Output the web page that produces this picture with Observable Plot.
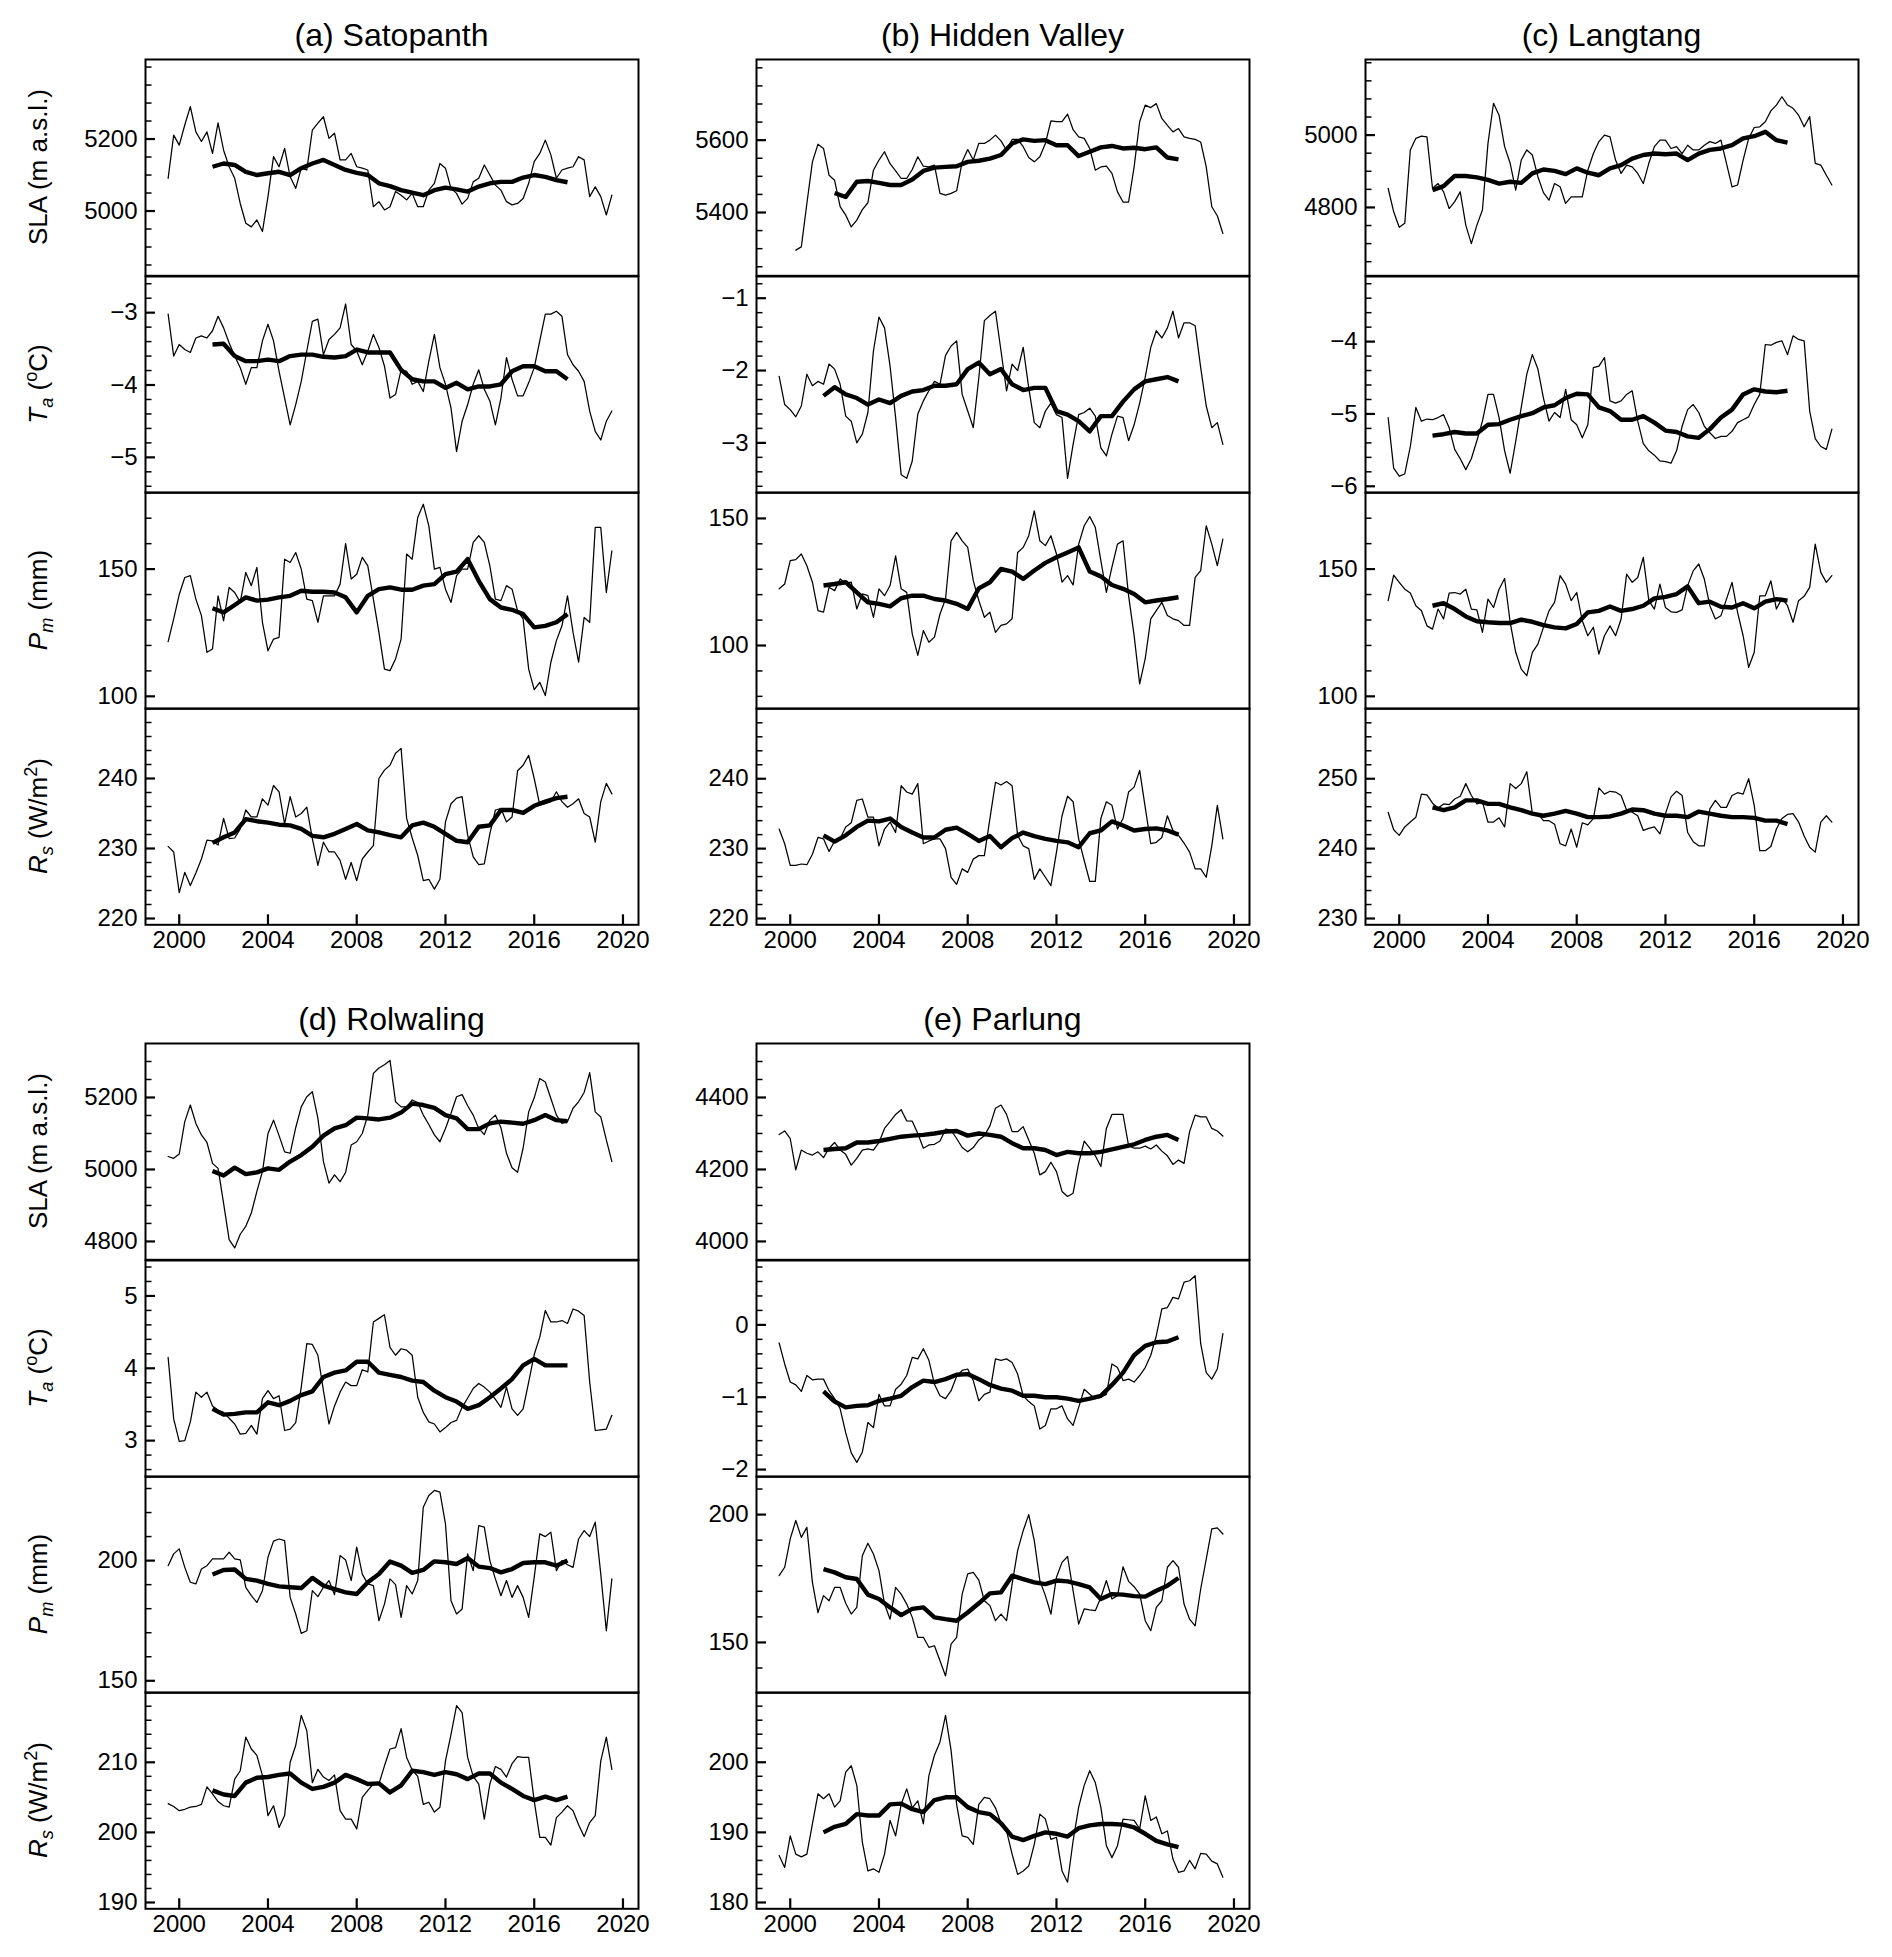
<!DOCTYPE html>
<html>
<head>
<meta charset="utf-8">
<script src="https://cdn.jsdelivr.net/npm/d3@7"></script>
<script src="https://cdn.jsdelivr.net/npm/@observablehq/plot@0.6"></script>
<style>
  body { margin: 0; background: #fff; }
  #fig { position: relative; width: 1892px; height: 1957px; background: #fff; color: #000;
         font-family: "Liberation Sans", Arial, Helvetica, sans-serif; }
  .title { position: absolute; font-size: 32px; transform: translate(-50%, -50%); white-space: nowrap; }
  .ylab { position: absolute; font-size: 26px; transform: translate(-50%, -50%) rotate(-90deg); white-space: nowrap; }
  .ylab sub, .ylab sup { font-size: 70%; line-height: 0; }
  .sub { position: absolute; }
</style>
</head>
<body>
<div id="fig"></div>
<script>
// ---------- time grids ----------
const thinYears = d3.range(81).map(i => 1999.5 + i * 0.25);   // quarterly samples of the monthly series
const avgYears  = d3.range(33).map(i => 2001.5 + i * 0.5);    // half-yearly samples of the moving average
const xTicks = [2000, 2004, 2008, 2012, 2016, 2020];

// ---------- (a) Satopanth ----------
const satopanthSLA = [5091,5211,5183,5239,5290,5220,5193,5220,5160,5245,
  5169,5123,5091,5021,4966,4956,4975,4943,5040,5151,
  5123,5174,5095,5063,5119,5114,5225,5244,5262,5202,
  5216,5142,5142,5160,5123,5119,5114,5012,5026,5003,
  5012,5054,5044,5031,5049,5012,5012,5058,5077,5132,
  5119,5063,5049,5019,5035,5081,5091,5128,5100,5072,
  5058,5026,5017,5021,5035,5077,5137,5160,5197,5156,
  5091,5114,5119,5123,5151,5142,5040,5067,5040,4989,5044];
const satopanthSLAma = [5123,5132,5128,5109,5100,5105,5109,5100,5119,5132,5142,5128,5114,5106,5100,5077,5069,
  5058,5051,5044,5058,5065,5060,5054,5068,5077,5081,5081,5093,5100,5095,5086,5080];
const satopanthTa = [-3.02,-3.60,-3.44,-3.51,-3.55,-3.35,-3.32,-3.35,-3.25,-3.05,
  -3.21,-3.42,-3.60,-3.76,-3.99,-3.76,-3.76,-3.39,-3.16,-3.39,
  -3.81,-4.18,-4.55,-4.27,-3.95,-3.53,-3.12,-3.09,-3.58,-3.37,
  -3.30,-3.21,-2.88,-3.44,-3.53,-3.72,-3.53,-3.30,-3.48,-3.74,
  -4.18,-4.13,-3.79,-3.81,-3.99,-3.95,-4.09,-3.67,-3.30,-3.76,
  -3.99,-4.32,-4.92,-4.50,-4.27,-3.99,-3.79,-4.06,-4.22,-4.55,
  -4.18,-3.62,-3.92,-4.15,-4.15,-3.97,-3.76,-3.39,-3.02,-3.02,
  -2.98,-3.05,-3.58,-3.72,-3.81,-3.95,-4.36,-4.64,-4.76,-4.50,-4.36];
const satopanthTama = [-3.44,-3.43,-3.60,-3.67,-3.67,-3.65,-3.67,-3.60,-3.58,-3.58,-3.61,-3.62,-3.60,-3.51,-3.55,-3.55,-3.55,
  -3.79,-3.92,-3.95,-3.95,-4.04,-3.97,-4.06,-4.02,-4.02,-3.99,-3.81,-3.74,-3.74,-3.81,-3.81,-3.92];
const satopanthPm = [121.5,130.4,140,146.7,147.4,138.2,131.7,117.3,118.6,139.5,
  129.7,142.8,140.8,136.9,148.7,143.5,150.7,129.1,117.9,122.5,
  123.2,153.9,152.6,156.5,150,138.2,137.6,129.1,139.5,139.5,
  139.5,144.1,160,146.1,148,154.6,151.3,138.2,125.1,110.7,
  110.1,114.7,122.5,155.9,153.9,170.3,175.5,167,150,150.7,
  142.1,136.9,147.4,150,150,160.5,163.1,160.5,151.3,138.2,
  137.6,143.5,142.1,133.6,130.4,110.7,102.6,105.5,100.3,113.4,
  121.9,127.7,139.5,125.1,113.4,131,129.1,166.4,166.4,140.8,157.2];
const satopanthPmma = [134.6,133,135.9,138.9,137.6,138,138.9,139.5,141.5,141.1,141.1,140.8,138.9,133,139.5,142.1,142.8,
  141.9,141.9,143.5,144.1,148,149,153.9,145.4,138.2,134.9,134,132.3,127.1,127.7,129.1,132.3];
const satopanthRs = [230.3,229.5,223.7,226.6,224.7,226.5,228.5,231.2,231.1,230.5,
  234.3,231.4,231.5,232.8,235.5,234.5,234.5,237.1,236.2,239,
  238.1,233.5,237.4,234.5,235,235.9,231.4,227.6,230.9,229.5,
  229.5,228.3,225.6,228,225.4,228.5,229.5,230.4,240,241.2,
  241.9,243.6,244.3,234.3,231.5,229,225.4,225.6,224.2,225.6,
  233.8,236.4,237.2,237.4,231.9,228.8,227.7,227.8,232.1,235.5,
  235.7,233.8,234.5,241.1,241.9,243.3,240,236.2,236.4,236.7,
  238.1,236.7,235.9,236.4,237.1,235,234.5,230.9,236.7,239.3,237.8];
const satopanthRsma = [230.8,231.6,232.3,234.2,233.9,233.7,233.4,233.3,232.8,231.8,231.6,232.1,232.8,233.5,232.6,232.3,231.9,
  231.6,233.3,233.7,233.1,232.1,231.1,230.9,233.1,233.3,235.5,235.5,235.1,236.1,236.7,237.2,237.4];

// ---------- (b) Hidden Valley ----------
const hiddenValleySLA = [null,null,null,5296,5305,5425,5540,5589,5577,5503,
  5489,5416,5393,5360,5379,5408,5427,5517,5545,5568,
  5535,5515,5494,5494,5519,5554,5528,5526,5531,5453,
  5448,5453,5460,5540,5574,5545,5591,5591,5600,5614,
  5598,5572,5602,5602,5582,5552,5540,5554,5591,5653,
  5651,5651,5672,5629,5609,5605,5577,5517,5526,5528,
  5508,5457,5429,5429,5526,5651,5697,5690,5701,5660,
  5641,5623,5632,5609,5605,5602,5595,5526,5416,5391,5342];
const hiddenValleySLAma = [null,5454,5443,5485,5487,5482,5476,5476,5491,5515,5524,5526,5528,5540,5543,5549,5559,
  5591,5602,5598,5600,5586,5586,5556,5568,5580,5584,5577,5579,5575,5580,5552,5547];
const hiddenValleyTa = [-2.08,-2.47,-2.54,-2.64,-2.49,-2.05,-2.21,-2.15,-2.19,-1.91,
  -1.98,-2.19,-2.63,-2.70,-3.00,-2.88,-2.58,-1.73,-1.26,-1.41,
  -1.94,-2.65,-3.44,-3.49,-3.25,-2.60,-2.42,-2.28,-2.15,-2.19,
  -1.79,-1.66,-1.59,-2.33,-2.56,-2.79,-2.10,-1.31,-1.24,-1.18,
  -1.73,-2.28,-1.91,-2.00,-1.68,-2.24,-2.72,-2.79,-2.56,-2.45,
  -2.61,-2.65,-3.49,-3.02,-2.61,-2.58,-2.52,-2.63,-3.07,-3.18,
  -2.88,-2.63,-2.65,-2.97,-2.75,-2.45,-2.09,-1.68,-1.45,-1.55,
  -1.41,-1.18,-1.55,-1.34,-1.34,-1.38,-1.96,-2.49,-2.79,-2.72,-3.02];
const hiddenValleyTama = [-2.35,-2.23,-2.33,-2.38,-2.47,-2.40,-2.45,-2.35,-2.29,-2.27,-2.21,-2.21,-2.19,-1.98,-1.89,-2.05,-1.98,
  -2.19,-2.27,-2.24,-2.24,-2.56,-2.61,-2.70,-2.84,-2.63,-2.63,-2.43,-2.26,-2.15,-2.12,-2.09,-2.15];
const hiddenValleyPm = [122.3,124.2,133.4,133.8,136,131.4,124.9,113.7,113.1,122.9,
  121.6,126.2,124.5,124.9,114.4,120.3,119.6,111.1,122.3,119.6,
  123.6,135.3,122.3,120.9,104.6,96.1,105.9,101.3,103.3,112.4,
  118.3,141.2,144.5,141.2,138.6,125.5,117.7,111.1,113.1,105.2,
  107.9,108.5,110.5,136.6,138.6,143.2,153,141.2,139.3,143.2,
  136,124.9,127.5,123.8,139.9,147.1,150.7,146.5,133.4,120.9,
  130.8,139.9,141.2,119.6,103.9,84.9,94.8,110.5,113.7,117,
  111.8,110.5,109.8,107.9,107.9,126.8,129.5,147.1,139.9,131.4,141.9];
const hiddenValleyPmma = [123.6,124.2,124.9,120.9,117,116.4,115.4,118.6,119.6,119.6,118.3,117.7,116.4,114.4,122.5,124.9,130.1,
  129.1,126.2,129.5,132.5,134.7,136.6,138.6,129.1,127.2,123.8,122.3,120.3,117,117.7,118.3,119];
const hiddenValleyRs = [232.8,230.7,227.6,227.6,227.8,227.7,229.2,231.6,231.4,229.6,
  231.1,231.4,233.1,233.7,236.9,237.1,234.5,234.5,230.4,232.8,
  233.8,232.3,239,238.1,237.8,239.3,230.7,231.1,231.4,231.4,
  230,225.9,224.9,227.1,226.6,228.5,229,229,234.3,239.5,
  239.1,239.6,239,231.9,230.4,230,225.6,227.1,225.9,224.7,
  229.5,234.7,237.5,236.7,231.4,228.3,225.3,225.3,234.3,236.7,
  236.2,232.8,234.3,238.1,238.8,241.2,235.9,230.7,230.9,231.6,
  234.7,232.6,231.9,230.8,229.5,227.1,227.1,225.9,230.4,236.2,231.4];
const hiddenValleyRsma = [231.9,231,231.9,233.1,234,233.9,234.3,233.1,232.3,231.6,231.6,232.7,233,232.1,231.1,231.8,230.2,
  231.5,232.3,231.8,231.4,231.1,230.9,230.2,232.2,232.6,233.9,233.3,232.6,232.8,232.9,232.6,232];

// ---------- (c) Langtang ----------
const langtangSLA = [4853,4788,4745,4756,4959,4991,4997,4995,4853,4866,
  4843,4797,4816,4843,4751,4700,4751,4793,4977,5088,
  5055,4968,4922,4848,4931,4959,4945,4885,4841,4820,
  4866,4857,4811,4829,4829,4829,4903,4949,4982,5000,
  4995,4931,4894,4917,4912,4894,4866,4922,4968,4986,
  4986,4963,4968,4949,4972,4959,4959,4972,4982,4977,
  4986,4922,4857,4862,4931,4991,5021,5023,5037,5067,
  5083,5106,5083,5074,5055,5023,5051,4922,4917,4889,4862];
const langtangSLAma = [4848,4859,4887,4887,4883,4876,4866,4871,4868,4894,4905,4901,4892,4908,4896,4889,4908,
  4917,4935,4945,4949,4947,4949,4931,4949,4959,4963,4972,4991,4997,5009,4986,4979];
const langtangTa = [-5.05,-5.75,-5.86,-5.83,-5.45,-4.91,-5.10,-5.07,-5.08,-5.05,
  -5.01,-5.19,-5.49,-5.62,-5.77,-5.62,-5.37,-5.10,-4.73,-4.73,
  -5.05,-5.51,-5.82,-5.38,-4.91,-4.45,-4.18,-4.38,-4.78,-5.10,
  -4.98,-5.05,-4.66,-5.08,-5.15,-5.33,-5.15,-4.36,-4.34,-4.22,
  -4.82,-4.85,-4.82,-4.73,-4.68,-5.10,-5.41,-5.51,-5.57,-5.65,
  -5.66,-5.68,-5.51,-5.17,-4.94,-4.87,-4.98,-5.17,-5.26,-5.34,
  -5.31,-5.31,-5.24,-5.12,-5.08,-5.04,-4.87,-4.73,-4.04,-4.05,
  -4.01,-3.99,-4.18,-3.92,-3.97,-3.99,-4.96,-5.34,-5.45,-5.49,-5.21];
const langtangTama = [-5.30,-5.28,-5.25,-5.27,-5.27,-5.15,-5.14,-5.08,-5.03,-4.99,-4.91,-4.88,-4.78,-4.72,-4.73,-4.91,-4.96,
  -5.08,-5.08,-5.03,-5.12,-5.23,-5.25,-5.31,-5.33,-5.21,-5.05,-4.94,-4.73,-4.66,-4.69,-4.70,-4.68];
const langtangPm = [137.6,147.6,144.8,142.1,140.6,135.6,133.6,127.7,126.4,134.3,
  130.4,140.6,140.8,140.2,142.1,134.3,134,125.1,138.2,134.9,
  142.1,146.3,129.1,117.3,110.7,108.1,117.3,120.5,127.1,133.6,
  136.9,147.4,144.1,137.6,140.8,129.7,123.8,127.1,116.6,123.8,
  127.7,123.8,130.4,148,144.8,146.7,154.6,137.6,134.3,144.1,
  134.9,133.2,133,134,143.5,149.3,152,146.1,135.6,130.4,
  131.7,138.2,144.8,133,123.8,111.4,117.3,139.5,139.5,145.4,
  134.3,138.5,135.6,129.1,137.6,139.3,142.8,159.8,148.7,144.8,147.4];
const langtangPmma = [135.6,136.6,134.3,131.4,129.5,129.1,128.8,128.8,130.1,129.3,128,127.1,126.7,128.4,133,133.6,135.3,
  133.6,134.3,135.6,138.5,139.1,140.2,143.2,136.6,137.2,135.2,134.9,136.6,134.6,137.2,138.2,137.6];
const langtangRs = [245.2,242.7,241.9,243.1,243.8,244.5,247.8,247.7,246.5,245.8,
  246.4,246.3,247.1,247.5,249.3,247.6,246.4,246.7,243.8,243.8,
  244.4,243.1,249.3,248.6,249.3,251,245,245,244,244,
  243.5,240.7,240.4,242.8,240.2,243.7,243.4,244.3,248.7,247.8,
  248.2,248.1,247.6,245.5,245.2,244.7,242.6,242.9,243.1,242.1,
  245,247.4,248.2,247.6,242.3,241,240.4,240.4,245.7,246.9,
  245.9,245.9,247.6,248,247.8,250,246.2,239.7,239.7,240.3,
  242.8,244.3,244.9,245,243.8,241.8,240.2,239.5,243.8,244.7,243.8];
const langtangRsma = [245.9,245.5,245.9,246.9,246.9,246.4,246.4,245.9,245.5,245,244.7,245,245.4,245,244.5,244.5,244.6,
  245,245.6,245.5,245,244.7,244.7,244.5,245.3,245,244.7,244.5,244.5,244.4,244,244,243.5];

// ---------- (d) Rolwaling ----------
const rolwalingSLA = [5036,5031,5043,5133,5179,5128,5096,5075,5017,5003,
  4906,4805,4782,4820,4842,4879,4939,4994,5100,5137,
  5094,5049,5045,5116,5174,5202,5216,5142,5022,4962,
  4985,4966,4992,5068,5077,5100,5151,5267,5282,5291,
  5303,5188,5174,5174,5193,5186,5151,5125,5096,5077,
  5114,5156,5202,5208,5177,5151,5114,5097,5137,5151,
  5116,5045,5005,4992,5059,5160,5199,5253,5243,5197,
  5151,5128,5133,5170,5188,5214,5269,5160,5146,5082,5022];
const rolwalingSLAma = [4996,4983,5005,4987,4992,5003,4999,5022,5040,5063,5094,5114,5123,5144,5142,5139,5144,
  5158,5183,5179,5171,5151,5142,5112,5112,5128,5133,5130,5127,5137,5151,5137,5134];
const rolwalingTa = [4.15,3.30,2.99,3.00,3.26,3.67,3.60,3.67,3.48,3.42,
  3.39,3.31,3.23,3.09,3.10,3.21,3.09,3.58,3.69,3.58,
  3.62,3.14,3.16,3.25,3.74,4.34,4.33,4.18,3.69,3.23,
  3.48,3.67,3.81,3.76,3.76,3.98,3.95,4.64,4.69,4.74,
  4.29,4.18,4.27,4.25,4.18,3.60,3.39,3.26,3.23,3.12,
  3.18,3.25,3.28,3.46,3.59,3.72,3.79,3.74,3.67,3.57,
  3.46,3.74,3.44,3.35,3.44,3.81,4.19,4.43,4.80,4.64,
  4.64,4.66,4.62,4.82,4.79,4.73,3.81,3.14,3.15,3.16,3.35];
const rolwalingTama = [3.44,3.36,3.37,3.39,3.39,3.53,3.49,3.55,3.63,3.68,3.88,3.94,3.97,4.09,4.09,3.94,3.91,
  3.88,3.83,3.81,3.69,3.60,3.54,3.44,3.49,3.60,3.72,3.85,4.04,4.13,4.04,4.04,4.04];
const rolwalingPm = [197.9,202.8,204.9,197.2,191,190.3,196.5,197.9,200.7,200.7,
  200.7,203.5,200.7,200.3,188.9,185.4,182.6,187.5,201.4,208.1,
  209,208.3,184.7,177.8,169.7,170.8,187.5,185,188.9,191.7,
  185.8,202.1,200.3,191.7,205.6,194.4,190.3,189.6,175,181.9,
  192.4,190,176.4,189.6,186.1,191.7,222.2,227.1,229.2,228.5,
  215.3,183.3,177.8,179.9,202.8,195.8,214.6,213.9,200,192.4,
  185.4,191.7,184.7,189.6,184.7,176.4,193.1,211.1,210,211.8,
  195.8,200,198.3,197.2,209,212.5,210,216,194.4,170.8,192.4];
const rolwalingPmma = [194.2,196.1,196.3,192.4,191.7,190.3,189.3,188.9,188.6,192.8,189.6,188.1,186.8,186.1,191,194.4,199.6,
  197.9,194.9,196.1,199.7,199.3,198.6,201.1,197.5,196.9,195.1,196.5,199,199.3,199.3,197.9,200];
const rolwalingRs = [204.1,203.7,203.1,203.3,203.6,203.7,204,206.5,205.5,204.4,
  203.8,203.6,207.6,208.8,213.6,211.9,211,208.1,202.4,203.8,
  200.7,202.4,210,212.4,216.7,214.5,207.1,209,207.9,207.4,
  208.2,203.1,201.9,201.9,200.5,205,206,206.9,206.9,209.5,
  211.9,212.1,214.8,210.7,208.9,208,204,204.3,202.9,203.6,
  210.2,214,218.1,217.1,210.7,208,206.9,201.9,206.9,209.4,
  209,207.9,209.8,210.8,210.7,210.7,204.5,199.3,199.3,198.2,
  202.1,202.9,203.8,203.1,201.1,199.4,201.4,202.4,210.2,213.6,209];
const rolwalingRsma = [206,205.4,205.2,207.1,207.8,207.9,208.2,208.4,207.1,206.2,206.5,207.1,208.2,207.6,206.9,207,205.7,
  206.7,208.8,208.6,208.2,208.6,208.3,207.6,208.4,208.4,207.1,206.2,205.2,204.6,205.1,204.6,205.1];

// ---------- (e) Parlung ----------
const parlungSLA = [4297,4307,4286,4199,4254,4245,4240,4249,4233,4259,
  4275,4254,4242,4212,4231,4254,4257,4254,4275,4314,
  4333,4353,4366,4335,4334,4300,4259,4268,4270,4279,
  4312,4309,4286,4261,4249,4261,4282,4294,4321,4370,
  4379,4353,4305,4305,4319,4282,4245,4185,4194,4220,
  4194,4139,4125,4134,4217,4279,4259,4238,4208,4314,
  4353,4353,4353,4266,4259,4259,4265,4257,4268,4251,
  4238,4214,4226,4217,4305,4351,4346,4346,4314,4307,4293];
const parlungSLAma = [4254,4257,4259,4275,4275,4279,4285,4291,4294,4296,4300,4305,4307,4294,4300,4296,4291,
  4273,4259,4259,4254,4240,4249,4245,4245,4249,4256,4263,4270,4282,4291,4296,4282];
const parlungTa = [-0.25,-0.54,-0.79,-0.83,-0.92,-0.70,-0.76,-0.75,-0.75,-0.91,
  -1.02,-1.16,-1.49,-1.77,-1.90,-1.76,-1.35,-1.42,-0.96,-1.12,
  -1.12,-0.89,-0.82,-0.70,-0.45,-0.47,-0.33,-0.49,-0.82,-0.98,
  -1.02,-0.91,-0.71,-0.63,-0.61,-0.77,-1.05,-0.96,-0.93,-0.47,
  -0.49,-0.47,-0.52,-0.68,-0.98,-1.06,-1.12,-1.44,-1.39,-1.16,
  -1.16,-1.12,-1.30,-1.39,-1.14,-0.89,-0.96,-1.02,-1.00,-0.96,
  -0.54,-0.59,-0.77,-0.75,-0.79,-0.70,-0.59,-0.42,-0.15,0.22,
  0.24,0.38,0.36,0.59,0.61,0.68,-0.26,-0.66,-0.75,-0.61,-0.12];
const parlungTama = [-0.92,-1.06,-1.14,-1.12,-1.11,-1.05,-1.02,-0.98,-0.86,-0.77,-0.79,-0.75,-0.69,-0.68,-0.75,-0.83,-0.88,
  -0.91,-0.98,-0.98,-1.00,-1.00,-1.02,-1.05,-1.02,-0.98,-0.83,-0.66,-0.42,-0.29,-0.24,-0.23,-0.17];
const parlungPm = [176.1,179.4,190.5,197.7,191.1,195,173.5,161.7,168.3,166.3,
  171.5,171.5,165.3,161.1,163.7,183.9,188.8,184.6,178.1,165,
  159.1,171.5,168.9,165,159.8,152,152,148.1,148.7,142.8,
  136.9,149.3,152,168.9,176.8,177.4,174.4,166.3,164.4,158.5,
  161.1,158.5,172.8,185.9,193.7,200,189.8,174.2,168.3,161.1,
  175.5,181.3,183.6,170.2,157.2,163.1,162.7,162.4,167.6,174.2,
  167,168.3,179.6,173.9,171.8,168.9,158.5,154.6,163.7,166.3,
  179.4,182,179.4,165,159.1,156.5,170.9,182.6,194.4,194.8,192.4];
const parlungPmma = [178.7,177.4,175.5,174.8,168.7,167,163.7,160.7,163.1,163.7,159.8,159.1,158.5,161.7,165.3,169.2,169.6,
  176.1,174.8,173.5,172.8,174.2,173.9,172.8,171.5,167,168.9,168.7,168.1,167.9,170.2,172.2,175.2];
const parlungRs = [186.7,185,189.5,186.9,186.5,186.9,191.2,195.5,194.8,195.5,
  193.6,194.5,198.6,199.5,196.7,188.6,184.5,184.8,184.3,186.9,
  191.7,189.5,194,196.2,193.5,194.5,191.2,198.1,201,202.9,
  206.7,201.7,194,189.5,189.3,188.3,194,195,194.8,193.5,
  191.3,190.2,186.9,184,184.5,185.2,188.3,192.6,191.9,189,
  189.3,184.5,182.9,188.8,193.6,196.7,198.8,197.1,193.6,188.1,
  186.4,188.1,191.9,191.8,191.7,190.5,195.2,191.7,192.2,189.8,
  190.2,186.2,184.3,184.5,186,184.8,187,186.9,185.9,185.5,183.6];
const parlungRsma = [190,190.8,191.2,192.6,192.4,192.4,194,194.1,193.3,192.9,194.6,195,195,193.6,192.9,192.6,191.3,
  189.4,188.9,189.5,190,189.8,189.4,190.6,191,191.2,191.2,191.1,190.7,189.8,188.8,188.3,187.9];

// ---------- axis configuration ----------
const yLabels = ["SLA (m a.s.l.)", "<i>T<sub>a</sub></i> (<sup>o</sup>C)", "<i>P<sub>m</sub></i> (mm)", "<i>R<sub>s</sub></i> (W/m<sup>2</sup>)"];
const minorSteps = [50, 0.2, 10, 2];

const panels = [
  {title: "(a) Satopanth", left: 145, top: 59.3, ylabels: true, rows: [
    {thin: satopanthSLA, avg: satopanthSLAma, domain: [4820, 5421], major: [5000, 5200]},
    {thin: satopanthTa,  avg: satopanthTama,  domain: [-5.49, -2.5], major: [-5, -4, -3]},
    {thin: satopanthPm,  avg: satopanthPmma,  domain: [95.1, 180.1], major: [100, 150]},
    {thin: satopanthRs,  avg: satopanthRsma,  domain: [219.1, 250.0], major: [220, 230, 240]}]},
  {title: "(b) Hidden Valley", left: 756, top: 59.3, ylabels: false, rows: [
    {thin: hiddenValleySLA, avg: hiddenValleySLAma, domain: [5225, 5823], major: [5400, 5600]},
    {thin: hiddenValleyTa,  avg: hiddenValleyTama,  domain: [-3.69, -0.70], major: [-3, -2, -1]},
    {thin: hiddenValleyPm,  avg: hiddenValleyPmma,  domain: [75.1, 160.2], major: [100, 150]},
    {thin: hiddenValleyRs,  avg: hiddenValleyRsma,  domain: [219.1, 250.05], major: [220, 230, 240]}]},
  {title: "(c) Langtang", left: 1365, top: 59.3, ylabels: false, rows: [
    {thin: langtangSLA, avg: langtangSLAma, domain: [4611, 5209], major: [4800, 5000]},
    {thin: langtangTa,  avg: langtangTama,  domain: [-6.09, -3.10], major: [-6, -5, -4]},
    {thin: langtangPm,  avg: langtangPmma,  domain: [95.1, 180.1], major: [100, 150]},
    {thin: langtangRs,  avg: langtangRsma,  domain: [229.1, 260.05], major: [230, 240, 250]}]},
  {title: "(d) Rolwaling", left: 145, top: 1043.3, ylabels: true, rows: [
    {thin: rolwalingSLA, avg: rolwalingSLAma, domain: [4749, 5350], major: [4800, 5000, 5200]},
    {thin: rolwalingTa,  avg: rolwalingTama,  domain: [2.50, 5.49], major: [3, 4, 5]},
    {thin: rolwalingPm,  avg: rolwalingPmma,  domain: [145, 235], major: [150, 200]},
    {thin: rolwalingRs,  avg: rolwalingRsma,  domain: [189.1, 219.96], major: [190, 200, 210]}]},
  {title: "(e) Parlung", left: 756, top: 1043.3, ylabels: false, rows: [
    {thin: parlungSLA, avg: parlungSLAma, domain: [3949, 4550], major: [4000, 4200, 4400]},
    {thin: parlungTa,  avg: parlungTama,  domain: [-2.10, 0.89], major: [-2, -1, 0]},
    {thin: parlungPm,  avg: parlungPmma,  domain: [130.3, 214.9], major: [150, 200]},
    {thin: parlungRs,  avg: parlungRsma,  domain: [179.1, 209.95], major: [180, 190, 200]}]}
];

// ---------- rendering ----------
const fig = document.getElementById("fig");
const FRAME_W = 493, SUB_H = 216.3;
const ML = 110, MR = 10, MT = 6, MB = 6, MB_BOTTOM = 56;
const MAJOR_LEN = 10, MINOR_LEN = 6.5;
const xDomain = [1998.48, 2020.7];
const fmt = d => String(d).replace("-", "\u2212");

function minorTicks(domain, step, major) {
  const [lo, hi] = domain, span = hi - lo, out = [];
  for (let k = Math.ceil(lo / step); k * step <= hi; k++) {
    const v = +(k * step).toFixed(6);
    if (v - lo < span * 0.01 || hi - v < span * 0.01) continue;
    if (major.some(m => Math.abs(m - v) < step * 1e-3)) continue;
    out.push(v);
  }
  return out;
}

panels.forEach(p => {
  const t = document.createElement("div");
  t.className = "title";
  t.textContent = p.title;
  t.style.left = (p.left + FRAME_W / 2) + "px";
  t.style.top = (p.top - 24) + "px";
  fig.appendChild(t);

  p.rows.forEach((r, i) => {
    const top = p.top + i * SUB_H;
    const isBottom = i === 3;
    const mb = isBottom ? MB_BOTTOM : MB;
    const thin = thinYears.map((yr, j) => ({t: yr, v: r.thin[j]}));
    const avg = avgYears.map((yr, j) => ({t: yr, v: r.avg[j]}));
    const marks = [
      Plot.line(thin, {x: "t", y: "v", stroke: "#000", strokeWidth: 1.25, strokeLinejoin: "round"}),
      Plot.line(avg, {x: "t", y: "v", stroke: "#000", strokeWidth: 4.4, strokeLinejoin: "round", strokeLinecap: "butt"}),
      // inward ticks on the left spine
      Plot.tickY(minorTicks(r.domain, minorSteps[i], r.major), {y: d => d, stroke: "#000", strokeWidth: 1.5, insetRight: FRAME_W - MINOR_LEN}),
      Plot.tickY(r.major, {y: d => d, stroke: "#000", strokeWidth: 2.2, insetRight: FRAME_W - MAJOR_LEN}),
      Plot.axisY(r.major, {anchor: "left", tickSize: 0, tickPadding: 8, tickFormat: fmt, label: null}),
      Plot.frame({stroke: "#000", strokeWidth: 2})
    ];
    if (isBottom) {
      marks.push(Plot.tickX(xTicks, {x: d => d, stroke: "#000", strokeWidth: 2.2, insetTop: SUB_H - MAJOR_LEN}));
      marks.push(Plot.axisX(xTicks, {anchor: "bottom", tickSize: 0, tickPadding: 6, tickFormat: fmt, label: null}));
    }
    const chart = Plot.plot({
      width: ML + FRAME_W + MR,
      height: MT + SUB_H + mb,
      marginLeft: ML, marginRight: MR, marginTop: MT, marginBottom: mb,
      x: {domain: xDomain, axis: isBottom ? undefined : null},
      y: {domain: r.domain},
      style: {fontFamily: "'Liberation Sans', Arial, Helvetica, sans-serif", fontSize: "24px",
              background: "transparent", overflow: "visible", maxWidth: "none", color: "#000"},
      marks
    });
    const holder = document.createElement("div");
    holder.className = "sub";
    holder.style.left = (p.left - ML) + "px";
    holder.style.top = (top - MT) + "px";
    holder.appendChild(chart);
    fig.appendChild(holder);

    if (p.ylabels) {
      const yl = document.createElement("div");
      yl.className = "ylab";
      yl.innerHTML = yLabels[i];
      yl.style.left = "38px";
      yl.style.top = (top + SUB_H / 2) + "px";
      fig.appendChild(yl);
    }
  });
});
</script>
</body>
</html>
